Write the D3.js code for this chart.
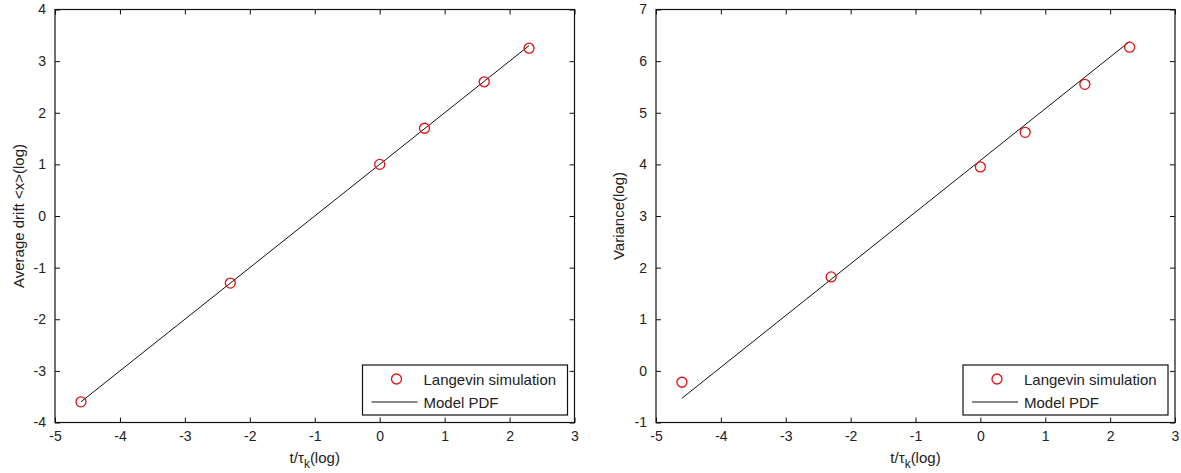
<!DOCTYPE html>
<html>
<head>
<meta charset="utf-8">
<script src="https://cdn.jsdelivr.net/npm/d3@7"></script>
<style>
body { margin: 0; background: #fff; }
text { font-family: "Liberation Sans", Arial, sans-serif; fill: #222; }
</style>
</head>
<body>
<script>
// simulation points (log t / tau_k)
var simX = [-4.6, -2.3, 0, 0.69, 1.61, 2.3];
var driftSim = [-3.6, -1.3, 1.0, 1.7, 2.6, 3.25];
var varSim = [-0.22, 1.82, 3.95, 4.62, 5.55, 6.27];

// model PDF line end points
var modelX = [-4.6, 2.3];
var driftModel = [-3.6, 3.3];
var varModel = [-0.53, 6.38];

var xTicks = [-5, -4, -3, -2, -1, 0, 1, 2, 3];
var driftTicks = [-4, -3, -2, -1, 0, 1, 2, 3, 4];
var varTicks = [-1, 0, 1, 2, 3, 4, 5, 6, 7];

var W = 1181, H = 473;
var svg = d3.select("body").append("svg")
    .attr("width", W)
    .attr("height", H);

// plain hyphen minus, like the original
var fmt = function(d) { return String(d); };

function panel(left, right, yTicks, simY, modelY, ylab, ylabX) {
    var top = 9.5, bottom = 422.5;
    var x = d3.scaleLinear().domain([-5, 3]).range([left, right]);
    var y = d3.scaleLinear().domain([yTicks[0], yTicks[yTicks.length - 1]]).range([bottom, top]);
    var g = svg.append("g");

    // ticks inward on all four sides
    g.append("g").attr("transform", "translate(0," + bottom + ")")
        .call(d3.axisBottom(x).tickValues(xTicks).tickSize(-5).tickPadding(9).tickFormat(fmt));
    g.append("g").attr("transform", "translate(0," + top + ")")
        .call(d3.axisTop(x).tickValues(xTicks).tickSize(-5).tickFormat(""));
    g.append("g").attr("transform", "translate(" + left + ",0)")
        .call(d3.axisLeft(y).tickValues(yTicks).tickSize(-5).tickPadding(9).tickFormat(fmt));
    g.append("g").attr("transform", "translate(" + right + ",0)")
        .call(d3.axisRight(y).tickValues(yTicks).tickSize(-5).tickFormat(""));
    g.selectAll(".domain").remove();
    g.selectAll(".tick line").attr("stroke", "#111");
    g.selectAll(".tick text").style("font-size", "14px").style("font-family", "Liberation Sans, Arial, sans-serif").attr("fill", "#222");

    g.append("rect")
        .attr("x", left).attr("y", top)
        .attr("width", right - left).attr("height", bottom - top)
        .attr("fill", "none").attr("stroke", "#111").attr("stroke-width", 1.2);

    // model line
    g.append("path")
        .datum(modelX.map(function(d, i) { return [d, modelY[i]]; }))
        .attr("d", d3.line().x(function(d) { return x(d[0]); }).y(function(d) { return y(d[1]); }))
        .attr("stroke", "#111").attr("stroke-width", 1).attr("fill", "none");

    // simulation markers
    g.selectAll("circle.sim")
        .data(simX)
        .enter().append("circle")
        .attr("class", "sim")
        .attr("cx", function(d) { return x(d); })
        .attr("cy", function(d, i) { return y(simY[i]); })
        .attr("r", 5)
        .attr("fill", "none")
        .attr("stroke", "#e01010")
        .attr("stroke-width", 1.3);

    // legend
    var lx = right - 212, ly = 365;
    var leg = g.append("g").attr("transform", "translate(" + lx + "," + ly + ")");
    leg.append("rect").attr("width", 205).attr("height", 50)
        .attr("fill", "#fff").attr("stroke", "#111").attr("stroke-width", 1.2);
    leg.append("circle").attr("cx", 34).attr("cy", 14).attr("r", 5)
        .attr("fill", "none").attr("stroke", "#e01010").attr("stroke-width", 1.3);
    leg.append("text").attr("x", 61).attr("y", 19.5).text("Langevin simulation").style("font-size", "15px");
    leg.append("line").attr("x1", 9).attr("x2", 55).attr("y1", 37).attr("y2", 37)
        .attr("stroke", "#111").attr("stroke-width", 1);
    leg.append("text").attr("x", 61).attr("y", 42.5).text("Model PDF").style("font-size", "15px");

    // x label
    var xl = g.append("text")
        .attr("x", (left + right) / 2)
        .attr("y", 463)
        .attr("text-anchor", "middle")
        .style("font-size", "15px");
    xl.append("tspan").text("t/τ");
    xl.append("tspan").attr("dy", 5).style("font-size", "12px").text("k");
    xl.append("tspan").attr("dy", -5).text("(log)");

    // y label
    g.append("text")
        .attr("transform", "translate(" + ylabX + "," + ((top + bottom) / 2) + ") rotate(-90)")
        .attr("text-anchor", "middle")
        .style("font-size", "15px")
        .text(ylab);
}

panel(55, 574.5, driftTicks, driftSim, driftModel, "Average drift <x>(log)", 24);
panel(656, 1175, varTicks, varSim, varModel, "Variance(log)", 624);
</script>
</body>
</html>
